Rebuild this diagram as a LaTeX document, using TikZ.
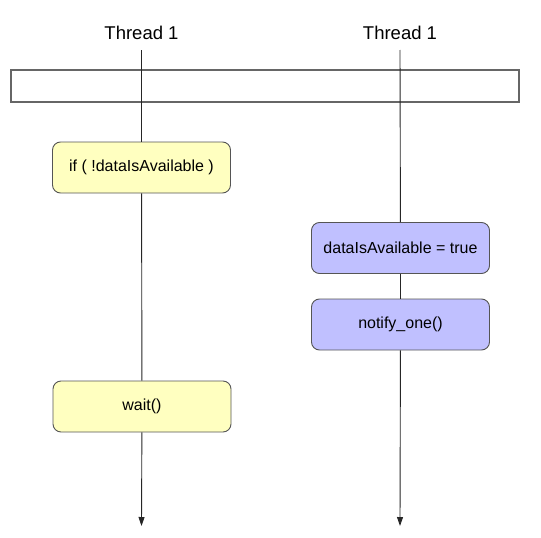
\documentclass[tikz,border=0pt]{standalone}
\usepackage{fontspec}
\setmainfont{Liberation Sans}
\usetikzlibrary{arrows.meta}

\definecolor{waitfill}{RGB}{255,255,192}
\definecolor{notifyfill}{RGB}{192,192,255}
\definecolor{boxline}{RGB}{85,85,85}

\tikzset{
  ->/.style={draw=black!85,line width=0.9pt,-{Triangle[length=9pt,width=6pt]}},
  timeline/.style={draw=black!85,line width=0.9pt},
  threadlabel/.style={font=\fontsize{18.5}{20}\selectfont,inner sep=0pt},
  stepbox/.style={draw=boxline,line width=0.9pt,rounded corners=8pt,
    minimum width=178pt,minimum height=51pt,inner sep=0pt,
    font=\fontsize{16}{18}\selectfont},
  waitbox/.style={stepbox,fill=waitfill},
  notifybox/.style={stepbox,fill=notifyfill}
}

\begin{document}
\begin{tikzpicture}[x=1pt,y=-1pt]
    \useasboundingbox (0,0) rectangle (541,538);
    \node[threadlabel] (T1) at (141.5,33) {Thread 1};
    \node[threadlabel] (T2) at (400,33) {Thread 1};
    \coordinate (T1top) at (141.5,50);
    \coordinate (T2top) at (400,50);
    \coordinate (T1end) at (141.5,526);
    \coordinate (T2end) at (400,526);
    \node[draw=black!60,line width=1.2pt,minimum width=508pt,minimum height=32pt,inner sep=0pt] (bar) at (265,86) {};
    \node[waitbox] (check) at (141.5,167.5) {if ( !dataIsAvailable )};
    \node[waitbox] (wait) at (142,406.5) {wait()};
    \node[notifybox] (set) at (400.5,248) {dataIsAvailable = true};
    \node[notifybox] (notify) at (400.5,324.5) {notify\_one()};
    \draw[timeline] (T1top) -- (check);
    \draw[timeline] (check) -- (wait);
    \draw[->] (wait) -- (T1end);
    \draw[timeline] (T2top) -- (set);
    \draw[timeline] (set) -- (notify);
    \draw[->] (notify) -- (T2end);
\end{tikzpicture}
\end{document}
